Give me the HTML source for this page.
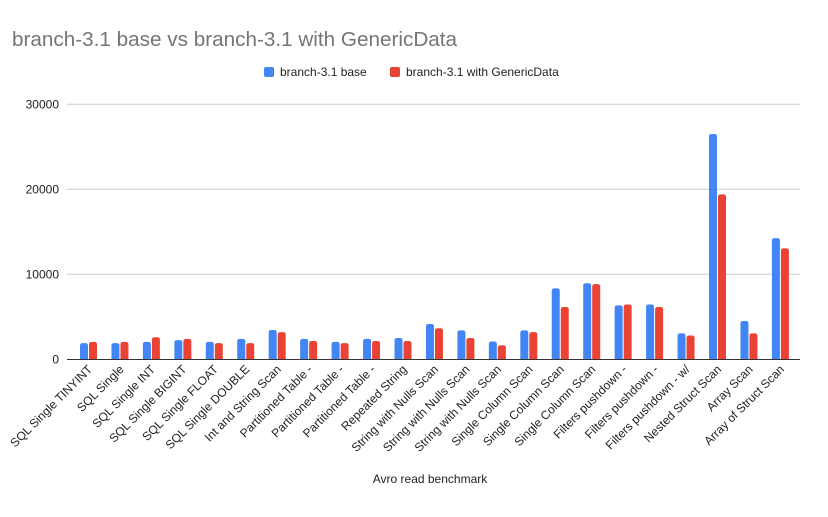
<!DOCTYPE html>
<html><head><meta charset="utf-8"><style>
body{margin:0;background:#fff;font-family:"Liberation Sans",Arial,sans-serif}
</style></head><body>
<svg id="chart" width="828" height="512" xmlns="http://www.w3.org/2000/svg">
<rect width="828" height="512" fill="#fff"/>
<text x="12" y="46" font-size="20.7" fill="#757575">branch-3.1 base vs branch-3.1 with GenericData</text>
<g>
<rect x="264" y="67" width="10" height="10" rx="2" fill="#4285f4"/>
<text x="280" y="76" font-size="12" fill="#222">branch-3.1 base</text>
<rect x="390" y="67" width="10" height="10" rx="2" fill="#ea4335"/>
<text x="406" y="76" font-size="12" fill="#222">branch-3.1 with GenericData</text>
</g>
<g id="grid"></g><g id="bars"></g><g id="xlabels"></g>
<text x="430" y="483" font-size="12" fill="#222" text-anchor="middle">Avro read benchmark</text>
</svg>
<script>
const categories=["SQL Single TINYINT","SQL Single","SQL Single INT","SQL Single BIGINT","SQL Single FLOAT","SQL Single DOUBLE","Int and String Scan","Partitioned Table -","Partitioned Table -","Partitioned Table -","Repeated String","String with Nulls Scan","String with Nulls Scan","String with Nulls Scan","Single Column Scan","Single Column Scan","Single Column Scan","Filters pushdown -","Filters pushdown -","Filters pushdown - w/","Nested Struct Scan","Array Scan","Array of Struct Scan"];
const baseValues=[1900,1900,2050,2250,2050,2400,3450,2400,2050,2400,2500,4150,3400,2100,3400,8350,8950,6350,6450,3050,26500,4500,14250];
const genericValues=[2050,2050,2600,2400,1900,1900,3200,2150,1900,2150,2150,3650,2500,1650,3200,6150,8850,6450,6150,2800,19400,3050,13050];
const yTicks=[0,10000,20000,30000];
const NS="http://www.w3.org/2000/svg";
const y=v=>359.3-v*85/10000;
const x=i=>89+31.45*i;
const grid=document.getElementById('grid'),bars=document.getElementById('bars'),xl=document.getElementById('xlabels');
yTicks.forEach(t=>{
 if(t>0){const l=document.createElementNS(NS,'line');
 l.setAttribute('x1',67);l.setAttribute('x2',800);l.setAttribute('y1',y(t));l.setAttribute('y2',y(t));
 l.setAttribute('stroke','#ccc');l.setAttribute('stroke-width',1);
 
 
 grid.appendChild(l);}
 const tx=document.createElementNS(NS,'text');
 tx.setAttribute('x',59);tx.setAttribute('y',y(t)+4);tx.setAttribute('font-size',12);tx.setAttribute('fill','#222');tx.setAttribute('text-anchor','end');
 tx.textContent=t;
 
 
 grid.appendChild(tx);
});
function bar(xx,v,c,name){
 const p=document.createElementNS(NS,'path');
 const r=2.5,w=8,t=y(v);
 p.setAttribute('d',`M${xx},359.3 V${t+r} Q${xx},${t} ${xx+r},${t} H${xx+w-r} Q${xx+w},${t} ${xx+w},${t+r} V359.3 Z`);
 p.setAttribute('fill',c);
 
 
 bars.appendChild(p);
}
categories.forEach((c,i)=>{
 bar(x(i)-9,baseValues[i],'#4285f4','bar-base');
 bar(x(i),genericValues[i],'#ea4335','bar-genericdata');
 const t=document.createElementNS(NS,'text');
 const cx=x(i)+4,cy=370;
 t.setAttribute('x',cx);t.setAttribute('y',cy);t.setAttribute('font-size',12);t.setAttribute('fill','#222');
 t.setAttribute('text-anchor','end');t.setAttribute('transform',`rotate(-45 ${cx} ${cy})`);
 t.textContent=c;
 
 
 xl.appendChild(t);
});
const ax=document.createElementNS(NS,'line');
ax.setAttribute('x1',67);ax.setAttribute('x2',800);ax.setAttribute('y1',359.5);ax.setAttribute('y2',359.5);ax.setAttribute('stroke','#333');


bars.appendChild(ax);
</script>
</body></html>
